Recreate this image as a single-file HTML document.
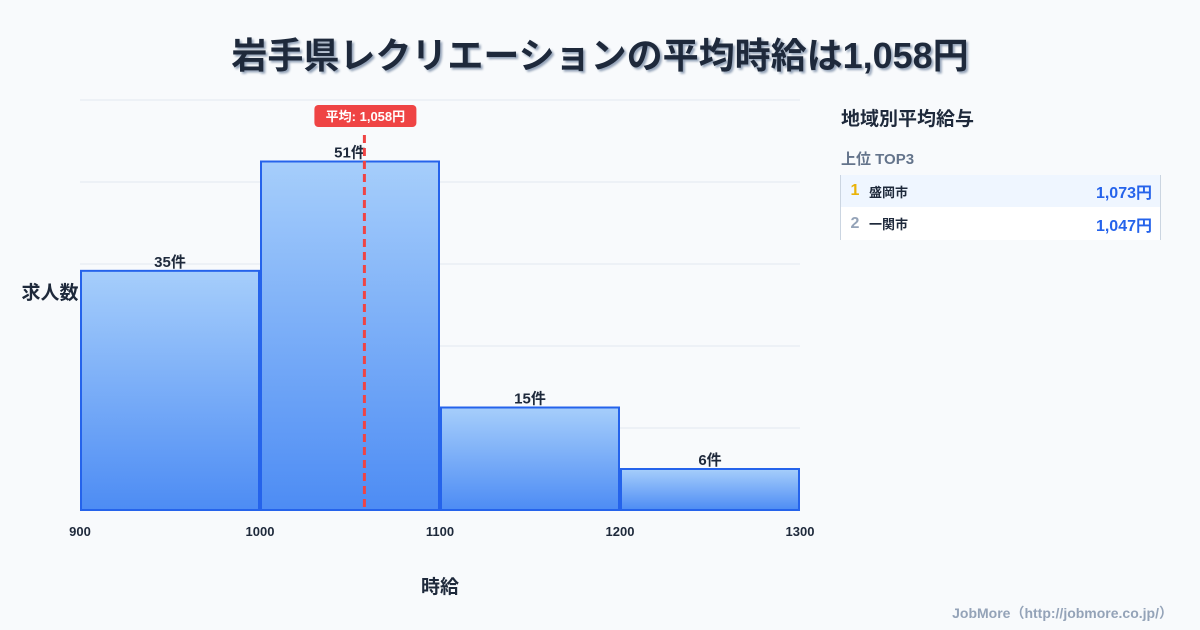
<!DOCTYPE html>
<html><head><meta charset="utf-8"><style>
body{margin:0;width:1200px;height:630px;background:#f8fafc;font-family:"Liberation Sans","Noto Sans CJK JP",sans-serif;overflow:hidden;position:relative;color:#1e293b}
.t{position:absolute}
</style></head><body>
<div class="t" style="left:0;width:1200px;top:27px;text-align:center;font-size:36px;font-weight:bold;color:#1e293b;text-shadow:2px 2px 2px #94a3b8">岩手県レクリエーションの平均時給は1,058円</div>
<svg class="t" style="left:0;top:0" width="820" height="630">
<defs><linearGradient id="g" x1="0" y1="0" x2="0" y2="1"><stop offset="0" stop-color="#a6cefb"/><stop offset="1" stop-color="#4d8cf4"/></linearGradient></defs>
<g id="grid"></g><g id="bars"></g><g id="xt"></g><g id="mean"></g>
<text x="440" y="593" text-anchor="middle" font-size="19" font-weight="bold" fill="#1e293b">時給</text>
<text x="50" y="299" text-anchor="middle" font-size="19" font-weight="bold" fill="#1e293b">求人数</text>
</svg>
<div class="t" style="left:841px;top:104px;font-size:19px;font-weight:bold">地域別平均給与</div>
<div class="t" style="left:841px;top:148px;font-size:15px;font-weight:bold;color:#64748b">上位 TOP3</div>
<div class="t" style="left:840px;top:175px;width:319px;border-left:1px solid #cbd5e1;border-right:1px solid #cbd5e1">
<div style="height:32px;background:#eff6ff;display:flex;align-items:center;font-size:13px;font-weight:bold"><span style="width:28px;text-align:center;color:#eab308;font-size:16px">1</span><span>盛岡市</span><span style="margin-left:auto;margin-right:8px;color:#2563eb;font-size:16px">1,073円</span></div>
<div style="height:33px;background:#fff;display:flex;align-items:center;font-size:13px;font-weight:bold"><span style="width:28px;text-align:center;color:#94a3b8;font-size:16px">2</span><span>一関市</span><span style="margin-left:auto;margin-right:8px;color:#2563eb;font-size:16px">1,047円</span></div>
</div>
<div class="t" style="right:27px;top:603px;font-size:14px;font-weight:bold;color:#94a3b8">JobMore（http://jobmore.co.jp/）</div>
<script>
const binStarts=[900,1000,1100,1200];
const counts=[35,51,15,6];
const xTicks=[900,1000,1100,1200,1300];
const yTicks=[0,12,24,36,48,60];
const meanValue=1058;
const NS='http://www.w3.org/2000/svg';
const X=v=>80+(v-900)*720/400, Y=v=>510-v*410/60;
function mk(p,tag,a,txt){const e=document.createElementNS(NS,tag);for(const k in a)e.setAttribute(k,a[k]);if(txt!=null)e.textContent=txt;document.getElementById(p).appendChild(e);return e;}
yTicks.forEach(t=>{const e=mk('grid','line',{x1:80,x2:800,y1:Y(t),y2:Y(t),stroke:t?'#e2e8f0':'#cbd5e1'});

});
binStarts.forEach((b,i)=>{const x0=X(b)+1,x1=X(b+100)-1;
const r=mk('bars','rect',{x:x0,y:Y(counts[i]),width:x1-x0,height:510-Y(counts[i]),fill:'url(#g)',stroke:'#2563eb','stroke-width':2});


const l=mk('bars','text',{x:(x0+x1)/2,y:Y(counts[i])-4,'text-anchor':'middle','font-size':15,'font-weight':'bold',fill:'#1e293b'},counts[i]+'件');

});
xTicks.forEach(t=>{const e=mk('xt','text',{x:X(t),y:536,'text-anchor':'middle','font-size':13,'font-weight':'bold',fill:'#1e293b'},t);

});
const mx=X(meanValue);
const ml=mk('mean','line',{x1:mx,x2:mx,y1:135,y2:510,stroke:'#ef4444','stroke-width':3,'stroke-dasharray':'8,5'});


const mb=mk('mean','rect',{x:mx-50,y:105,width:102,height:22,rx:4,fill:'#ef4444'});


const mt=mk('mean','text',{x:mx+1,y:121,'text-anchor':'middle','font-size':13,'font-weight':'bold',fill:'#fff'},'平均: 1,058円');


</script>
</body></html>
